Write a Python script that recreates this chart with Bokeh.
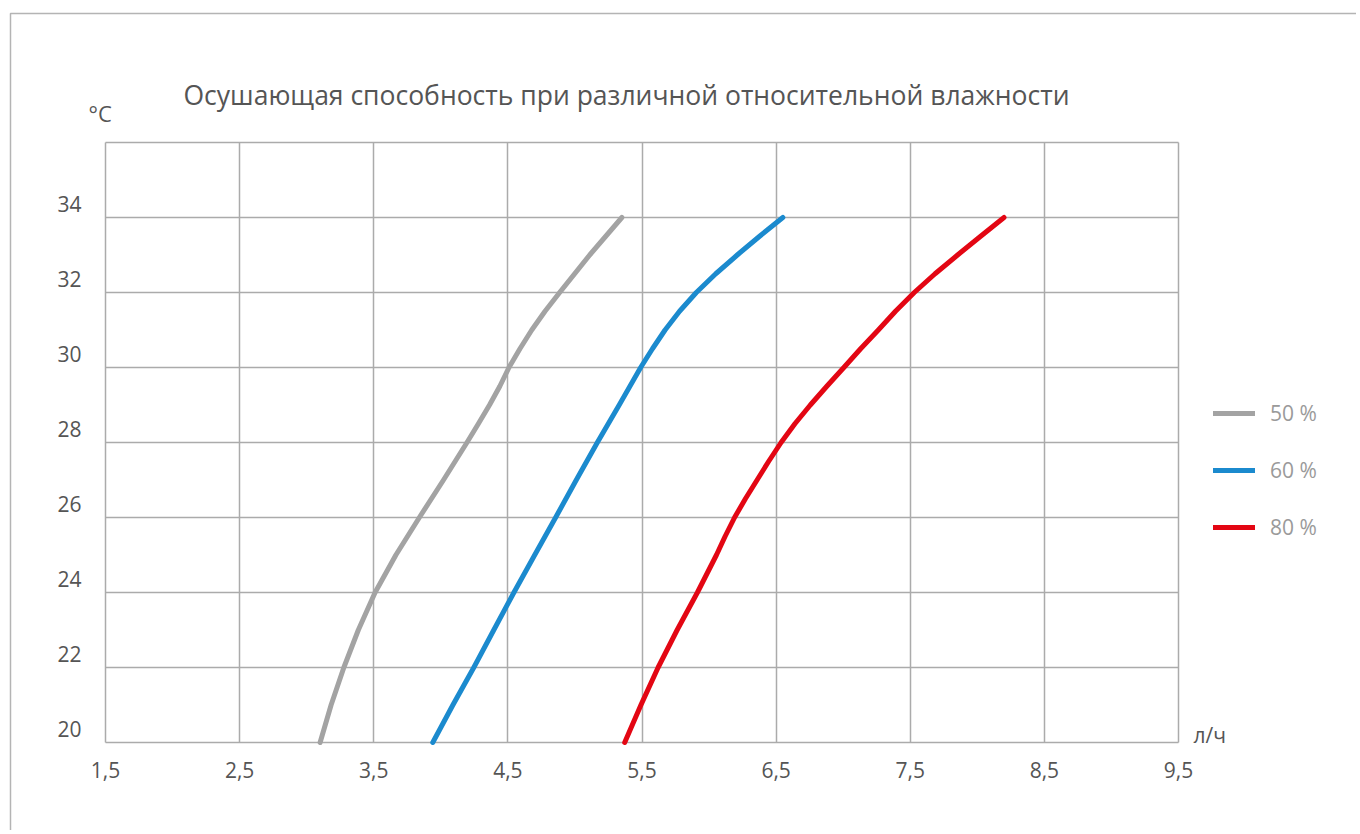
from bokeh.plotting import figure
from bokeh.models import (FixedTicker, Range1d, Label, LabelSet, Legend, LegendItem,
                          BoxAnnotation, ColumnDataSource)
from bokeh.core.properties import value
from bokeh.embed import file_html
from bokeh.resources import INLINE

# ---- data ----
temps50 = [20, 21, 22, 23, 24, 25, 26, 27, 28, 28.5, 29, 29.5, 30, 30.5, 31, 31.5, 32, 33, 34]
rh50 = [3.10, 3.182, 3.277, 3.385, 3.510, 3.665, 3.840, 4.020, 4.195, 4.280, 4.363, 4.440, 4.508,
        4.590, 4.678, 4.777, 4.886, 5.110, 5.350]
temps60 = [20, 21, 22, 23, 24, 25, 26, 27, 28, 29, 30, 30.5, 31, 31.5, 32, 32.5, 33, 33.5, 34]
rh60 = [3.94, 4.09, 4.246, 4.395, 4.545, 4.70, 4.856, 5.01, 5.167, 5.33, 5.49, 5.578, 5.672,
        5.78, 5.905, 6.05, 6.21, 6.377, 6.55]
temps80 = [20, 21, 22, 23, 24, 25, 25.5, 26, 26.5, 27, 27.5, 28, 28.5, 29, 29.5, 30, 30.5, 31,
           31.5, 32, 32.5, 33, 33.5, 34]
rh80 = [5.371, 5.492, 5.620, 5.762, 5.913, 6.055, 6.120, 6.190, 6.271, 6.358, 6.445, 6.537, 6.640,
        6.755, 6.878, 7.005, 7.130, 7.262, 7.390, 7.530, 7.685, 7.853, 8.025, 8.199]
series_names = ["50 %", "60 %", "80 %"]
series_colors = ["#a3a3a3", "#1b8ace", "#e30613"]

x_ticks = [1.5, 2.5, 3.5, 4.5, 5.5, 6.5, 7.5, 8.5, 9.5]
x_tick_labels = ["1,5", "2,5", "3,5", "4,5", "5,5", "6,5", "7,5", "8,5", "9,5"]
y_ticks = [20, 22, 24, 26, 28, 30, 32, 34]
y_tick_labels = ["20", "22", "24", "26", "28", "30", "32", "34"]
y_grid = [20, 22, 24, 26, 28, 30, 32, 34, 36]

title_text = "Осушающая способность при различной относительной влажности"
y_unit = "°C"
x_unit = "л/ч"

# ---- layout (page pixels) ----
W, H = 1356, 830
OX, OY = 0, 0                      # canvas origin on page
L, R, T, B = 105, 1178, 142, 742   # plot area on page
XMIN, XMAX, YMIN, YMAX = 1.5, 9.5, 20, 36
sx = (R - L) / (XMAX - XMIN)
sy = (B - T) / (YMAX - YMIN)
x_start = XMIN - (L - OX) / sx
x_end = XMAX + (OX + W - R) / sx
y_end = YMAX + (T - OY) / sy
y_start = YMIN - (OY + H - B) / sy

FONT = "Open Sans"
GRID = "#ababab"
TXT = "#555555"

p = figure(width=W, height=H, output_backend="svg", toolbar_location=None,
           x_range=Range1d(x_start, x_end), y_range=Range1d(y_start, y_end),
           min_border=0)
p.background_fill_color = "white"
p.border_fill_color = "white"
p.outline_line_color = None

# outer frame (only top and left edges fall inside the canvas)
p.add_layout(BoxAnnotation(left=XMIN - (L - 10) / sx, top=YMAX + (T - 13) / sy,
                           right=x_end + 5, bottom=y_start - 5,
                           fill_alpha=0, line_color="#b4b4b4", line_alpha=1.0, line_width=1.5))

p.xgrid.ticker = FixedTicker(ticks=x_ticks)
p.ygrid.ticker = FixedTicker(ticks=y_grid)
p.xgrid.cross_bounds = (YMIN, YMAX)
p.ygrid.cross_bounds = (XMIN, XMAX)
for g in (p.xgrid, p.ygrid):
    g.grid_line_color = GRID
    g.grid_line_width = 1.5

p.xaxis.fixed_location = YMIN
p.xaxis.bounds = (XMIN, XMAX)
p.xaxis.ticker = FixedTicker(ticks=x_ticks)
p.xaxis.major_label_overrides = {t: l for t, l in zip(x_ticks, x_tick_labels)}
p.xaxis.axis_line_color = None
p.xaxis.major_tick_line_color = None
p.xaxis.minor_tick_line_color = None
p.xaxis.major_tick_in = 0
p.xaxis.major_tick_out = 0
p.xaxis.major_label_text_font = FONT
p.xaxis.major_label_text_font_size = "21px"
p.xaxis.major_label_text_color = TXT
p.xaxis.major_label_standoff = 19
p.yaxis.visible = False

ysrc = ColumnDataSource(dict(y=y_ticks, text=y_tick_labels))
p.add_layout(LabelSet(x=XMIN, y="y", text="text", source=ysrc, x_offset=-24, y_offset=6,
                      text_align="right", text_baseline="alphabetic",
                      text_font=value(FONT), text_font_size="21px", text_color=TXT))

renderers = []
for xs, ys, c in zip([rh50, rh60, rh80], [temps50, temps60, temps80], series_colors):
    r = p.line(xs, ys, line_color=c, line_width=5, line_cap="round", line_join="round")
    renderers.append(r)

legend = Legend(items=[LegendItem(label=n, renderers=[r]) for n, r in zip(series_names, renderers)],
                location=(1213 - OX, OY + H - 541), orientation="vertical",
                padding=0, margin=0, spacing=29, glyph_width=42, glyph_height=20,
                label_height=20, label_standoff=15,
                label_text_font=FONT, label_text_font_size="21px", label_text_color="#9a9a9a",
                border_line_color=None, background_fill_alpha=0)
p.add_layout(legend, "center")

p.add_layout(Label(x=XMIN, y=YMAX, x_offset=78, y_offset=48, text=title_text,
                   text_font=FONT, text_font_size="26.5px", text_color=TXT,
                   text_baseline="alphabetic"))
p.add_layout(Label(x=XMIN, y=YMAX, x_offset=-17, y_offset=30, text=y_unit,
                   text_font=FONT, text_font_size="22px", text_color=TXT,
                   text_baseline="alphabetic"))
p.add_layout(Label(x=XMAX, y=YMIN, x_offset=15, y_offset=8, text=x_unit,
                   text_font=FONT, text_font_size="21px", text_color=TXT,
                   text_baseline="alphabetic"))

open("out.html", "w").write(file_html(p, INLINE))
